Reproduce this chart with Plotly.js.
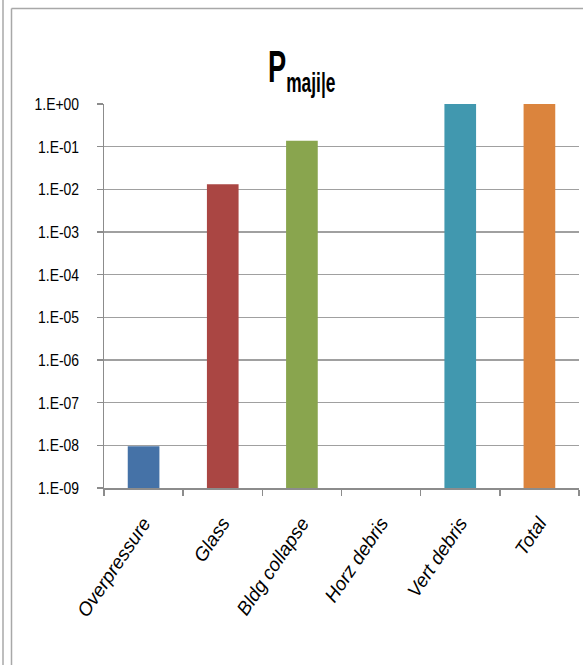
<!DOCTYPE html>
<html>
<head>
<meta charset="utf-8">
<script src="https://cdn.plot.ly/plotly-3.0.1.min.js"></script>
<style>
  html, body { margin: 0; padding: 0; background: #ffffff; }
  #chart { width: 583px; height: 665px; }
</style>
</head>
<body>
<div id="chart"></div>
<script>
// Conditional probability of major injury per effect, on a log axis
const categories = ["Overpressure", "Glass", "Bldg collapse", "Horz debris", "Vert debris", "Total"];
const probabilities = [9.5e-9, 1.31e-2, 1.38e-1, null, 1.0, 1.0];
const barColors = ["#4572A7", "#AA4643", "#89A54E", "#71588F", "#4198AF", "#DB843D"];

const yTickValues = [1e-9, 1e-8, 1e-7, 1e-6, 1e-5, 1e-4, 1e-3, 1e-2, 1e-1, 1e0];
const yTickLabels = ["1.E-09", "1.E-08", "1.E-07", "1.E-06", "1.E-05", "1.E-04", "1.E-03", "1.E-02", "1.E-01", "1.E+00"];

// Plot-area geometry in pixels, used to place the outer frame lines
const W = 583, H = 665;
const M = { l: 104, r: 4, t: 104, b: 177 };
const plotW = W - M.l - M.r;
const plotH = H - M.t - M.b;
const px = x => (x - M.l) / plotW;          // pixel x -> paper x
const py = y => (H - M.b - y) / plotH;      // pixel y -> paper y

const frameColor = "#a8a8a8";
const sansFont = "Liberation Sans, Arial, sans-serif";

const trace = {
  type: "bar",
  x: categories,
  y: probabilities,
  marker: { color: barColors, line: { width: 0 } },
  hoverinfo: "x+y"
};

const layout = {
  width: W,
  height: H,
  margin: M,
  paper_bgcolor: "#ffffff",
  plot_bgcolor: "#ffffff",
  showlegend: false,
  bargap: 0.6,
  title: {
    text: "<b>P<sub><span style='font-size:28px'>maji|e</span></sub></b>",
    font: { family: sansFont, size: 44, color: "#000000" },
    xref: "container",
    x: 268 / W,
    xanchor: "left",
    yref: "container",
    y: 1 - 67 / H,
    yanchor: "middle"
  },
  xaxis: {
    type: "category",
    tickmode: "array",
    tickvals: categories,
    ticktext: categories.map(c => "<i>" + c + "</i>"),
    showline: true,
    linecolor: "#8c8c8c",
    linewidth: 1.5,
    showgrid: false,
    ticks: "outside",
    tickson: "boundaries",
    ticklen: 6,
    tickwidth: 1.5,
    tickcolor: "#8c8c8c",
    tickangle: -56,
    ticklabelstandoff: 15,
    tickfont: { family: sansFont, size: 19, color: "#000000" },
    zeroline: false
  },
  yaxis: {
    type: "log",
    range: [-9, 0],
    tickmode: "array",
    tickvals: yTickValues,
    ticktext: yTickLabels,
    showline: true,
    linecolor: "#8c8c8c",
    linewidth: 1.5,
    showgrid: true,
    gridcolor: "#a0a0a0",
    gridwidth: 1.6,
    ticks: "outside",
    ticklen: 6,
    tickwidth: 1.5,
    tickcolor: "#8c8c8c",
    ticklabelstandoff: 14,
    tickfont: { family: sansFont, size: 17, color: "#000000" },
    zeroline: false
  },
  shapes: [
    // outer chart frame: top and left edges
    { type: "line", xref: "paper", yref: "paper", x0: px(11.5), x1: px(W + 5), y0: py(8.5), y1: py(8.5),
      line: { color: frameColor, width: 1.5 } },
    { type: "line", xref: "paper", yref: "paper", x0: px(11.5), x1: px(11.5), y0: py(8.5), y1: py(H + 5),
      line: { color: frameColor, width: 1.5 } },
    // neighbouring cell border on the far left
    { type: "line", xref: "paper", yref: "paper", x0: px(3), x1: px(3), y0: py(-5), y1: py(H + 5),
      line: { color: frameColor, width: 1.5 } }
  ]
};

// Squeeze an SVG text horizontally about its anchor point (condensed look)
function condense(el, s) {
  const x = parseFloat(el.getAttribute("x")) || 0;
  const prev = el.getAttribute("transform") || "";
  el.setAttribute("transform", prev + " translate(" + x + ",0) scale(" + s + ",1) translate(" + (-x) + ",0)");
}

Plotly.newPlot("chart", [trace], layout, { displayModeBar: false, staticPlot: true }).then(gd => {
  gd.querySelectorAll(".ytick text").forEach(t => condense(t, 0.82));
  gd.querySelectorAll(".gtitle").forEach(t => condense(t, 0.62));
});
</script>
</body>
</html>
